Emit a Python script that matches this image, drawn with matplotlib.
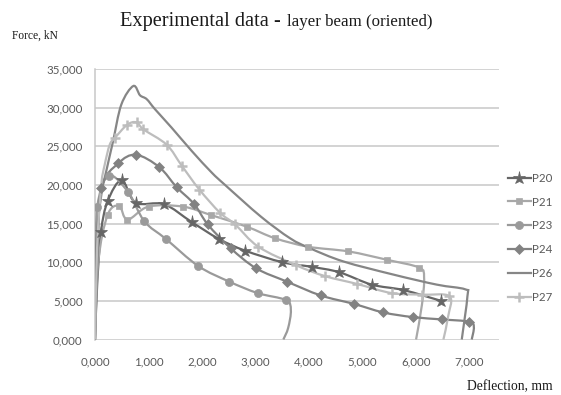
import numpy as np
import matplotlib
matplotlib.use("Agg")
import matplotlib.pyplot as plt
from matplotlib.path import Path
from matplotlib.patches import PathPatch
from matplotlib.lines import Line2D

# Load-deflection curves (deflection, force) for each specimen
p20_x = [0, 40, 112, 237, 498, 760, 1290, 1807, 2318, 2804, 3500, 4050, 4567, 5171, 5763, 6467]
p20_y = [0, 7000, 13900, 17900, 20600, 17700, 17500, 15200, 13000, 11500, 10000, 9400, 8700, 7100, 6400, 5000]

p21_x = [0, 60, 235, 450, 607, 1000, 1639, 2168, 2835, 3364, 3988, 4735, 5465, 6060, 6150, 6110, 6000]
p21_y = [0, 10000, 16100, 17300, 15500, 17200, 17200, 16100, 14600, 13100, 12000, 11400, 10300, 9300, 8000, 4500, 0]

p23_x = [0, 15, 43, 255, 617, 922, 1327, 1931, 2505, 3041, 3570, 3660, 3610, 3520]
p23_y = [0, 9000, 17200, 21200, 19100, 15300, 13000, 9500, 7500, 6000, 5100, 3800, 1500, 0]

p24_x = [0, 50, 120, 436, 766, 1202, 1527, 1856, 2106, 2536, 3014, 3583, 4218, 4841, 5389, 5938, 6480, 6996, 7080, 7040]
p24_y = [0, 11000, 19600, 22800, 23900, 22300, 19700, 17500, 14900, 11800, 9200, 7500, 5700, 4600, 3500, 2900, 2600, 2300, 1600, 0]

p26_x = [0, 20, 118, 211, 336, 492, 716, 841, 966, 1121, 1433, 1807, 2181, 2430, 3100, 3645, 4019, 4641, 5576, 6387, 6916, 6960, 6854]
p26_y = [0, 12000, 18700, 21800, 25600, 30400, 32800, 31600, 31100, 29800, 27400, 24400, 21600, 20000, 15900, 13100, 11800, 10100, 8400, 7100, 6500, 5600, 0]

p27_x = [0, 40, 118, 181, 275, 374, 604, 779, 903, 1340, 1620, 1950, 2336, 2617, 3053, 3760, 4299, 4891, 5545, 6106, 6623, 6600, 6511]
p27_y = [0, 12000, 20000, 22600, 25200, 26100, 27800, 28100, 27200, 25200, 22500, 19400, 16400, 14900, 12000, 9600, 8200, 7200, 6000, 5800, 5600, 3000, 0]

series = [
    # name, x, y, colour, marker, size, marked points
    ("P20", p20_x, p20_y, "#666666", "*", 9.5, slice(2, None)),
    ("P21", p21_x, p21_y, "#a8a8a8", "s", 5.0, slice(2, 14)),
    ("P23", p23_x, p23_y, "#9a9a9a", "o", 5.8, slice(2, 11)),
    ("P24", p24_x, p24_y, "#828282", "D", 4.6, slice(2, 18)),
    ("P26", p26_x, p26_y, "#868686", None, 0, None),
    ("P27", p27_x, p27_y, "#bdbdbd", "+", 7.5, slice(5, 21)),
]

x_ticks = [0, 1000, 2000, 3000, 4000, 5000, 6000, 7000]
x_labels = ["0,000", "1,000", "2,000", "3,000", "4,000", "5,000", "6,000", "7,000"]
y_ticks = [0, 5000, 10000, 15000, 20000, 25000, 30000, 35000]
y_labels = ["0,000", "5,000", "10,000", "15,000", "20,000", "25,000", "30,000", "35,000"]


def smooth_path(x, y):
    """Smoothed polyline through the points as cubic Bezier segments."""
    pts = np.column_stack([x, y]).astype(float)
    n = len(pts)
    verts = [pts[0]]
    codes = [Path.MOVETO]
    for i in range(n - 1):
        p0 = pts[i - 1] if i > 0 else pts[i]
        p1 = pts[i]
        p2 = pts[i + 1]
        p3 = pts[i + 2] if i + 2 < n else pts[i + 1]
        c1 = p1 + (p2 - p0) / 6.0
        c2 = p2 - (p3 - p1) / 6.0
        verts += [c1, c2, p2]
        codes += [Path.CURVE4] * 3
    return Path(verts, codes)


W, H = 561, 395
fig = plt.figure(figsize=(W / 100, H / 100), dpi=100)
ax = fig.add_axes([95 / W, 1 - 339.5 / H, (499 - 95) / W, (339.5 - 69) / H])

ax.set_xlim(0, 7550)
ax.set_ylim(0, 35000)

tick_font = dict(family="Lato", size=8.3, color="#595959")
ax.set_xticks(x_ticks)
ax.set_xticklabels(x_labels, **tick_font)
ax.set_yticks(y_ticks)
ax.set_yticklabels(y_labels, **tick_font)
ax.tick_params(axis="both", length=0)
ax.tick_params(axis="x", pad=12)
ax.tick_params(axis="y", pad=9)

ax.grid(axis="y", color="#c8c8c8", linewidth=1.1)
ax.set_axisbelow(True)
for side in ["top", "right", "bottom"]:
    ax.spines[side].set_visible(False)
ax.spines["left"].set_color("#c8c8c8")
ax.spines["left"].set_linewidth(1.1)

handles = []
for name, x, y, col, mk, ms, every in series:
    patch = PathPatch(smooth_path(x, y), facecolor="none", edgecolor=col,
                      linewidth=1.6, zorder=3)
    ax.add_patch(patch)
    if mk is not None:
        mew = 1.8 if mk == "+" else 0.5
        ax.plot(np.array(x)[every], np.array(y)[every], linestyle="none",
                marker=mk, markersize=ms, color=col, markeredgecolor=col,
                markeredgewidth=mew, zorder=4)
    handles.append(Line2D([], [], color=col, linewidth=1.6, marker=mk,
                          markersize=ms, markeredgewidth=1.8 if mk == "+" else 0.5))

leg = fig.legend(handles=handles, labels=[s[0] for s in series],
                 loc="upper left", bbox_to_anchor=(503 / W, 1 - 168 / H),
                 frameon=False, handlelength=2.0, handletextpad=0.1,
                 labelspacing=1.12, prop=dict(family="Lato", size=8.3),
                 borderaxespad=0)
for t in leg.get_texts():
    t.set_color("#595959")

fig.text(120 / W, 1 - 26 / H, "Experimental data -", family="Liberation Serif",
         size=14.7, ha="left", va="baseline", color="#1a1a1a")
fig.text(287 / W, 1 - 26 / H, "layer beam (oriented)", family="Liberation Serif",
         size=12.2, ha="left", va="baseline", color="#1a1a1a")
fig.text(12 / W, 1 - 39 / H, "Force, kN", family="Liberation Serif",
         size=8.3, ha="left", va="baseline", color="#1a1a1a")
fig.text(553 / W, 1 - 390 / H, "Deflection, mm", family="Liberation Serif",
         size=9.8, ha="right", va="baseline", color="#1a1a1a")

fig.savefig("out.png", dpi=100)
